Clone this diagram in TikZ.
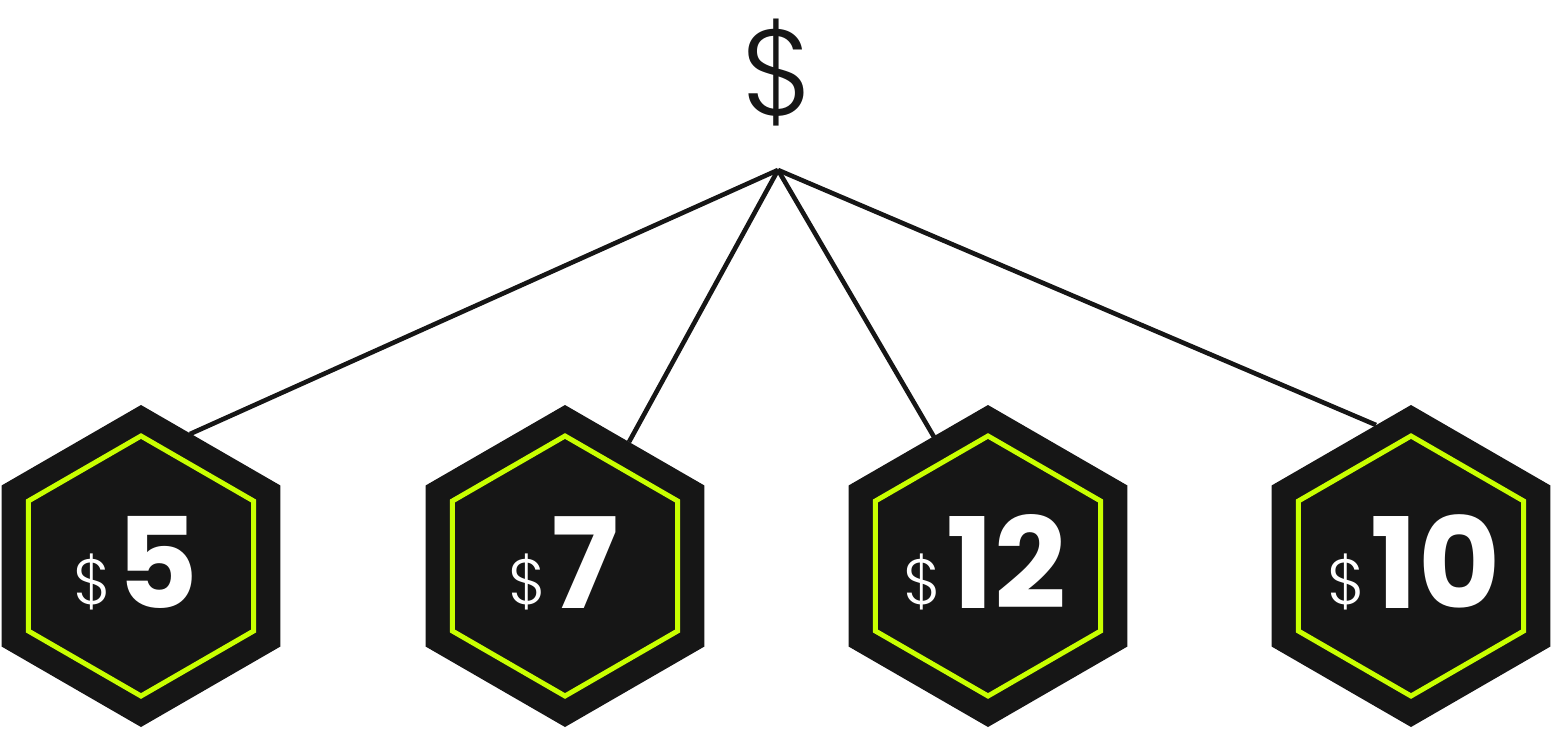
\documentclass[tikz,border=0pt]{standalone}
\usepackage{fontspec}
\setmainfont{Poppins}
\newfontfamily\poplight{Poppins Light}
\definecolor{dark}{HTML}{161616}
\definecolor{lime}{HTML}{C8FF00}
\tikzset{
  outerhex/.style={fill=dark},
  innerhex/.style={draw=lime, line width=5pt, fill=dark, line join=miter},
  link/.style={draw=dark, line width=4.6pt},
  price/.style={text=white, inner sep=0pt, anchor=base},
}
\newcommand{\hexpath}[3]{% center x, center y, radius
  (#1,#2-#3) -- (#1+0.8660254*#3,#2-0.5*#3) -- (#1+0.8660254*#3,#2+0.5*#3) --
  (#1,#2+#3) -- (#1-0.8660254*#3,#2+0.5*#3) -- (#1-0.8660254*#3,#2-0.5*#3) -- cycle}
\newcommand{\pricetext}[1]{\raisebox{4pt}{\poplight\fontsize{64}{64}\selectfont\$}\hspace{5pt}{\fontsize{126}{126}\selectfont\bfseries #1}}
\begin{document}
\begin{tikzpicture}[x=1pt,y=-1pt]
\useasboundingbox (0,0) rectangle (1552,728);
\node[inner sep=0pt, text=dark] (top) at (778,73) {\poplight\fontsize{122}{122}\selectfont\$};
\coordinate (apex) at (778,170);
\coordinate (e1) at (190,434);
\coordinate (e2) at (629,442);
\coordinate (e3) at (934,437);
\coordinate (e4) at (1376,425);
\foreach \e in {e1,e2,e3,e4} \draw[link] (apex) -- (\e);
\foreach \cx in {141,565,988,1411} {
  \fill[outerhex] \hexpath{\cx}{566}{161};
  \draw[innerhex] \hexpath{\cx}{566}{130};
}
\node[price] (p1) at (136,608) {\pricetext{5}};
\node[price] (p2) at (564,608) {\pricetext{7}};
\node[price] (p3) at (985,608) {\pricetext{12}};
\node[price] (p4) at (1414,608) {\pricetext{10}};
\end{tikzpicture}
\end{document}
